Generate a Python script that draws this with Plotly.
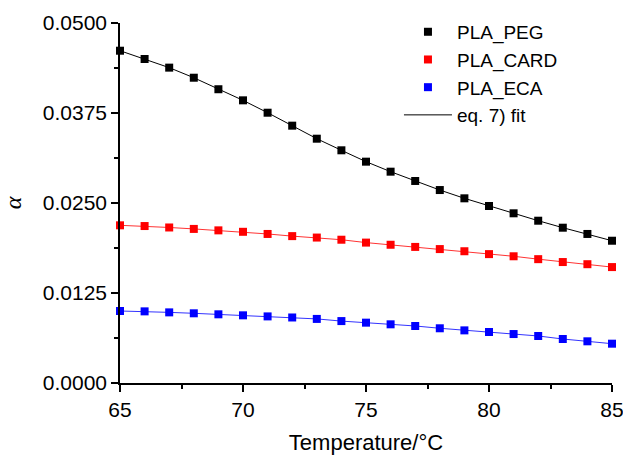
import plotly.graph_objects as go

temperature = list(range(65, 86))
peg = [0.04615, 0.0450, 0.0438, 0.0424, 0.0408, 0.03926, 0.03754, 0.03574, 0.03393, 0.03232,
       0.03074, 0.02935, 0.02806, 0.0268, 0.02565, 0.02458, 0.02357, 0.02254, 0.02157, 0.0207, 0.01976]
card = [0.0219, 0.0218, 0.0216, 0.0214, 0.0212, 0.0210, 0.0207, 0.0204, 0.0202, 0.0199,
        0.0195, 0.0192, 0.0189, 0.0186, 0.0183, 0.0179, 0.0176, 0.0172, 0.0168, 0.0165, 0.0161]
eca = [0.0100, 0.00995, 0.00981, 0.00968, 0.00954, 0.0094, 0.00925, 0.0091, 0.0089, 0.0086,
       0.00838, 0.00815, 0.00792, 0.0076, 0.00731, 0.00708, 0.0068, 0.00653, 0.00611, 0.00579, 0.00546]

series = [("PLA_PEG", peg, "#000000", "#000000"),
          ("PLA_CARD", card, "#ff0000", "#ff3333"),
          ("PLA_ECA", eca, "#0000ff", "#3333ff")]

fig = go.Figure()
for name, vals, mc, lc in series:
    fig.add_trace(go.Scatter(x=temperature, y=vals, mode="lines", line=dict(color=lc, width=1),
                             showlegend=False, hoverinfo="skip", cliponaxis=False))
for name, vals, mc, lc in series:
    fig.add_trace(go.Scatter(x=temperature, y=vals, mode="markers", name=name,
                             marker=dict(symbol="square", size=8, color=mc), cliponaxis=False))
fig.add_trace(go.Scatter(x=[None], y=[None], mode="lines", name="eq. 7) fit",
                         line=dict(color="#000000", width=1)))

font = "Liberation Sans, Arial, Helvetica, sans-serif"
fig.update_layout(
    width=623, height=455,
    margin=dict(l=120, r=11, t=23, b=72, autoexpand=False),
    plot_bgcolor="white", paper_bgcolor="white",
    font=dict(family=font, size=21, color="black"),
    showlegend=True,
    legend=dict(x=0.567, y=1.028, xanchor="left", yanchor="top", bgcolor="rgba(0,0,0,0)",
                font=dict(size=19), itemwidth=48, tracegroupgap=0),
    xaxis=dict(range=[65, 85], tickvals=[65, 70, 75, 80, 85], showgrid=False, zeroline=False,
               showline=True, linecolor="black", linewidth=1.5, ticklabeloverflow="allow",
               automargin=False,
               ticks="outside", ticklen=7, tickwidth=1.5, tickcolor="black",
               minor=dict(tickvals=[67.5, 72.5, 77.5, 82.5], ticks="outside", ticklen=4, tickwidth=1.5, tickcolor="black"),
               title=dict(text="Temperature/°C", font=dict(size=22), standoff=17),
               tickfont=dict(size=21)),
    yaxis=dict(range=[0, 0.05], tickvals=[0, 0.0125, 0.025, 0.0375, 0.05], tickformat=".4f",
               showgrid=False, zeroline=False, ticklabeloverflow="allow",
               automargin=False,
               showline=True, linecolor="black", linewidth=1.5,
               ticks="outside", ticklen=7, tickwidth=1.5, tickcolor="black",
               minor=dict(tickvals=[0.00625, 0.01875, 0.03125, 0.04375], ticks="outside", ticklen=4, tickwidth=1.5, tickcolor="black"),
               title=dict(text="<i>α</i>", font=dict(size=24, family="Liberation Serif, Times New Roman, serif"), standoff=16),
               tickfont=dict(size=21)),
)
fig.write_html("out.html")
